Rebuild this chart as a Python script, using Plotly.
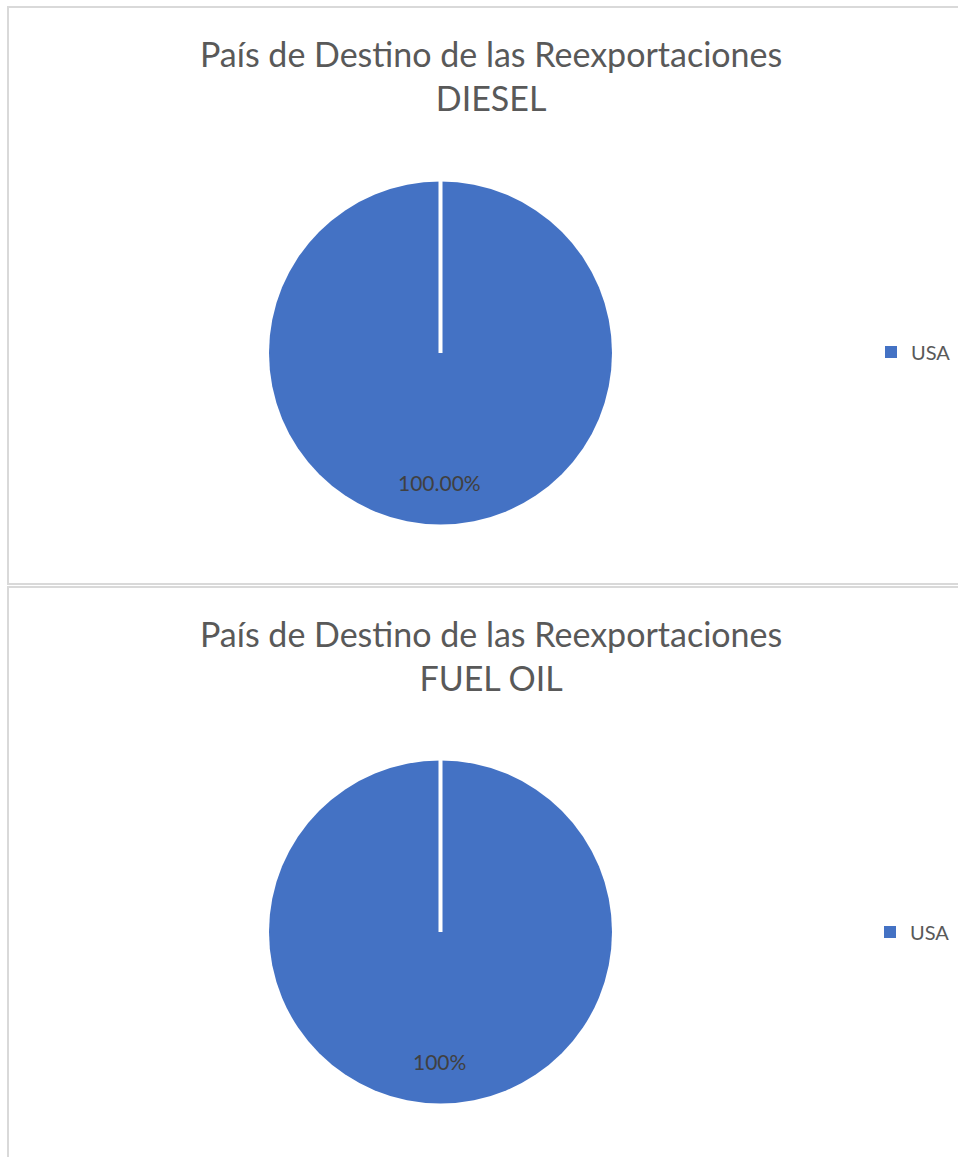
import plotly.graph_objects as go

W, H = 958, 1157

countries = ["USA"]
diesel_values = [100.0]
fuel_values = [100.0]
titles = ["País de Destino de las Reexportaciones<br>DIESEL",
          "País de Destino de las Reexportaciones<br>FUEL OIL"]
label_formats = ["{:.2f}%", "{:.0f}%"]

BLUE = "#4472C4"
FONT = "Lato"

def px_x(x):
    return x / W

def px_y(y):
    return 1 - y / H

fig = go.Figure()

charts = [
    dict(values=diesel_values, cy=353, title_y=75, frame=(8, 7, 962, 584), legend="legend", suffix=""),
    dict(values=fuel_values, cy=932, title_y=655, frame=(8, 587, 962, 1165), legend="legend2", suffix="\u200b"),
]
R = 171.5
CX = 440.5

annotations = []
shapes = []
for i, ch in enumerate(charts):
    x0, x1 = CX - R, CX + R
    y0, y1 = ch["cy"] - R, ch["cy"] + R
    fig.add_trace(go.Pie(
        labels=[c + ch["suffix"] for c in countries], values=ch["values"],
        domain=dict(x=[px_x(x0), px_x(x1)], y=[px_y(y1), px_y(y0)]),
        marker=dict(colors=[BLUE], line=dict(width=0)),
        textinfo="none", sort=False, direction="clockwise", rotation=0,
        hoverinfo="label+percent", showlegend=True, legend=ch["legend"],
    ))
    total = sum(ch["values"])
    pct = ch["values"][0] / total * 100
    annotations.append(dict(
        x=px_x(439), y=px_y(ch["cy"] + 129), xref="paper", yref="paper",
        xanchor="center", yanchor="middle",
        text=label_formats[i].format(pct), showarrow=False,
        font=dict(family=FONT, size=21, color="#404040"),
    ))
    annotations.append(dict(
        x=px_x(491), y=px_y(ch["title_y"]), xref="paper", yref="paper",
        xanchor="center", yanchor="middle",
        text=titles[i], showarrow=False, align="center",
        font=dict(family=FONT, size=34, color="#595959"),
    ))
    # white separator line from center to top of pie
    shapes.append(dict(type="line", xref="paper", yref="paper",
                       x0=px_x(CX), x1=px_x(CX), y0=px_y(ch["cy"]), y1=px_y(ch["cy"] - R - 2),
                       line=dict(color="white", width=4)))
    fx0, fy0, fx1, fy1 = ch["frame"]
    shapes.append(dict(type="rect", xref="paper", yref="paper",
                       x0=px_x(fx0), x1=px_x(fx1), y0=px_y(fy1), y1=px_y(fy0),
                       line=dict(color="#D9D9D9", width=2), layer="below"))

legend_style = dict(font=dict(family=FONT, size=20, color="#595959"),
                    xanchor="left", yanchor="middle", bgcolor="rgba(0,0,0,0)",
                    itemsizing="constant")
fig.update_layout(
    width=W, height=H,
    margin=dict(l=0, r=0, t=0, b=0),
    paper_bgcolor="white", plot_bgcolor="white",
    annotations=annotations, shapes=shapes,
    legend=dict(x=px_x(871), y=px_y(352), **legend_style),
    legend2=dict(x=px_x(870), y=px_y(932), **legend_style),
)

fig.write_html("out.html", config={"displayModeBar": False},
               post_script="document.body.style.margin='0';document.body.style.overflow='hidden';")
